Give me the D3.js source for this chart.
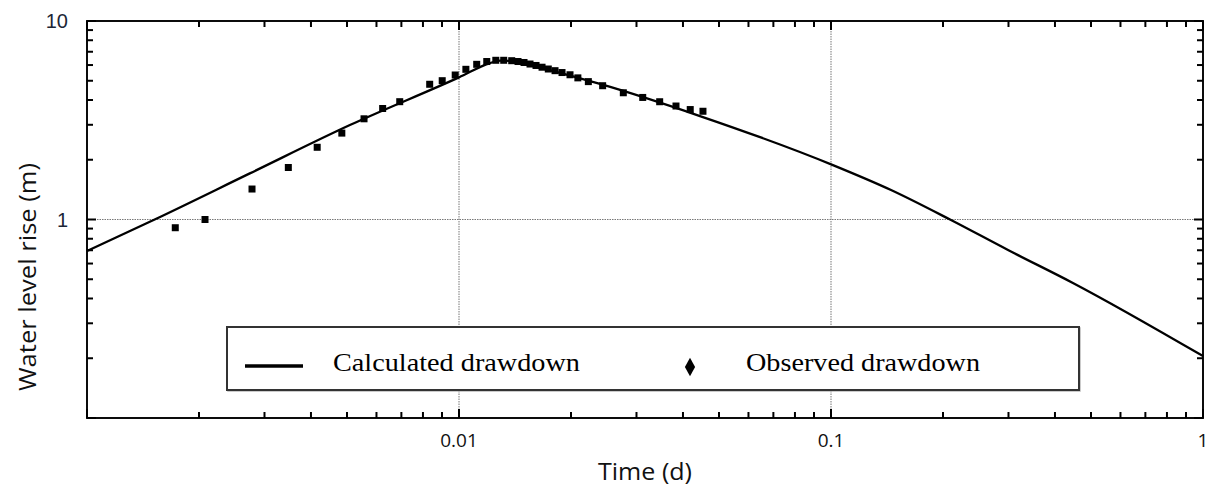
<!DOCTYPE html>
<html lang="en">
<head>
<meta charset="utf-8">
<title>Water level rise</title>
<script src="https://d3js.org/d3.v7.min.js"></script>
<style>
  body { margin: 0; background: #fff; }
  svg { display: block; }
</style>
</head>
<body>
<script type="text/javascript">
// calculated curve (time in days, rise in m)
var calcTime = [0.001, 0.00152, 0.00274, 0.00509, 0.01, 0.01212, 0.01289, 0.01371, 0.01459, 0.02393, 0.04444, 0.1012, 0.145, 0.2089, 0.30, 0.447, 1];
var calcRise = [0.694, 1.0, 1.707, 2.99, 5.20, 6.14, 6.32, 6.29, 6.14, 4.82, 3.32, 1.88, 1.408, 1.0, 0.70, 0.479, 0.205];

// observed points
var obsTime = [0.001727, 0.002076, 0.002777, 0.003477, 0.004157, 0.004842, 0.005555, 0.006234, 0.006929,
  0.008341, 0.009013, 0.009768, 0.010435, 0.011158, 0.011874, 0.012559, 0.013188, 0.013858, 0.01441,
  0.014955, 0.01552, 0.01611, 0.01672, 0.01738, 0.01812, 0.01892, 0.01988, 0.02087, 0.02227, 0.02433,
  0.02765, 0.03118, 0.03463, 0.03831, 0.04184, 0.04527];
var obsRise = [0.909, 1.0, 1.424, 1.828, 2.311, 2.724, 3.216, 3.624, 3.922,
  4.80, 5.004, 5.345, 5.71, 6.05, 6.25, 6.34, 6.34, 6.31, 6.25,
  6.18, 6.07, 5.97, 5.85, 5.73, 5.62, 5.50, 5.36, 5.17, 4.95, 4.72,
  4.35, 4.12, 3.92, 3.73, 3.58, 3.51];

var xMajor = [0.001, 0.01, 0.1, 1];
var xLabels = [0.01, 0.1, 1];
var yMajor = [0.1, 1, 10];
var yLabels = [1, 10];
var gridX = [0.01, 0.1];
var gridY = [1];

var w = 1212, h = 493;
var margin = {left: 87, top: 21, right: 9, bottom: 75};
var bottom = h - margin.bottom, right = w - margin.right;

var svg = d3.select("body").append("svg")
  .attr("width", w).attr("height", h);

var x = d3.scaleLog().domain([0.001, 1]).range([margin.left, right]);
var y = d3.scaleLog().domain([0.1, 10]).range([bottom, margin.top]);

function minors(majors) {
  var out = [];
  majors.slice(0, -1).forEach(function(m) {
    for (var k = 2; k <= 9; k++) out.push(m * k);
  });
  return out;
}
var xMinor = minors(xMajor);
var yMinor = minors(yMajor);

// grid
svg.append("g").selectAll("line").data(gridX).join("line")
  .attr("x1", d => x(d)).attr("x2", d => x(d))
  .attr("y1", margin.top).attr("y2", bottom)
  .attr("stroke", "#777").attr("stroke-width", 1).attr("stroke-dasharray", "1.5,1");
svg.append("g").selectAll("line").data(gridY).join("line")
  .attr("y1", d => y(d)).attr("y2", d => y(d))
  .attr("x1", margin.left).attr("x2", right)
  .attr("stroke", "#777").attr("stroke-width", 1).attr("stroke-dasharray", "1.5,1");

// ticks, all pointing inward
var tickG = svg.append("g").attr("stroke", "#000").attr("stroke-width", 2);
var xt = xMinor.map(v => [v, 6]).concat(xMajor.map(v => [v, 9]));
var yt = yMinor.map(v => [v, 6]).concat(yMajor.map(v => [v, 9]));
tickG.append("g").selectAll("line").data(xt).join("line")
  .attr("x1", d => x(d[0])).attr("x2", d => x(d[0]))
  .attr("y1", bottom).attr("y2", d => bottom - d[1]);
tickG.append("g").selectAll("line").data(xt).join("line")
  .attr("x1", d => x(d[0])).attr("x2", d => x(d[0]))
  .attr("y1", margin.top).attr("y2", d => margin.top + d[1]);
tickG.append("g").selectAll("line").data(yt).join("line")
  .attr("y1", d => y(d[0])).attr("y2", d => y(d[0]))
  .attr("x1", margin.left).attr("x2", d => margin.left + d[1]);
tickG.append("g").selectAll("line").data(yt).join("line")
  .attr("y1", d => y(d[0])).attr("y2", d => y(d[0]))
  .attr("x1", right).attr("x2", d => right - d[1]);

// tick labels
svg.append("g").selectAll("text").data(xLabels).join("text")
  .attr("x", d => x(d)).attr("y", bottom + 29)
  .attr("text-anchor", "middle")
  .attr("font-family", "Open Sans").attr("font-size", 19).attr("fill", "#111")
  .text(d => String(d));
svg.append("g").selectAll("text").data(yLabels).join("text")
  .attr("x", margin.left - 19).attr("y", d => y(d)).attr("dy", "0.36em")
  .attr("text-anchor", "end")
  .attr("font-family", "Liberation Sans").attr("font-size", 20).attr("fill", "#1c2636")
  .text(d => String(d));

// frame
svg.append("rect")
  .attr("x", margin.left).attr("y", margin.top)
  .attr("width", right - margin.left).attr("height", bottom - margin.top)
  .attr("fill", "none").attr("stroke", "#000").attr("stroke-width", 1.9);

// calculated line
var calc = calcTime.map((t, i) => [t, calcRise[i]]);
svg.append("path")
  .datum(calc)
  .attr("fill", "none").attr("stroke", "#000").attr("stroke-width", 2.3)
  .attr("stroke-linejoin", "round")
  .attr("d", d3.line().curve(d3.curveMonotoneX).x(d => x(d[0])).y(d => y(d[1])));

// observed squares
var obs = obsTime.map((t, i) => [t, obsRise[i]]);
var sq = 7;
svg.append("g").selectAll("rect").data(obs).join("rect")
  .attr("x", d => x(d[0]) - sq / 2).attr("y", d => y(d[1]) - sq / 2)
  .attr("width", sq).attr("height", sq).attr("fill", "#000");

// legend
var lg = svg.append("g");
lg.append("rect").attr("x", 228).attr("y", 328).attr("width", 852).attr("height", 63)
  .attr("fill", "none").attr("stroke", "#bbb").attr("stroke-width", 1.5);
lg.append("rect").attr("x", 227).attr("y", 327).attr("width", 852).attr("height", 63)
  .attr("fill", "#fff").attr("stroke", "#333").attr("stroke-width", 2);
lg.append("line").attr("x1", 245).attr("x2", 303).attr("y1", 366).attr("y2", 366)
  .attr("stroke", "#000").attr("stroke-width", 3.5);
lg.append("text").attr("x", 333).attr("y", 371)
  .attr("font-family", "Liberation Serif").attr("font-size", 26)
  .attr("textLength", 247).attr("lengthAdjust", "spacingAndGlyphs")
  .text("Calculated drawdown");
lg.append("path")
  .attr("d", d3.symbol().type(d3.symbolDiamond).size(100))
  .attr("transform", "translate(690,367) scale(0.95,1)");
lg.append("text").attr("x", 746).attr("y", 371)
  .attr("font-family", "Liberation Serif").attr("font-size", 26)
  .attr("textLength", 234).attr("lengthAdjust", "spacingAndGlyphs")
  .text("Observed drawdown");

// axis titles
svg.append("text")
  .attr("x", 645).attr("y", 480)
  .attr("text-anchor", "middle")
  .attr("font-family", "Open Sans").attr("font-size", 23).attr("fill", "#111")
  .attr("textLength", 94).attr("lengthAdjust", "spacingAndGlyphs")
  .text("Time (d)");
svg.append("text")
  .attr("transform", "translate(36,277) rotate(-90)")
  .attr("text-anchor", "middle")
  .attr("font-family", "Open Sans").attr("font-size", 23).attr("fill", "#111")
  .attr("textLength", 228).attr("lengthAdjust", "spacingAndGlyphs")
  .text("Water level rise (m)");
</script>
</body>
</html>
